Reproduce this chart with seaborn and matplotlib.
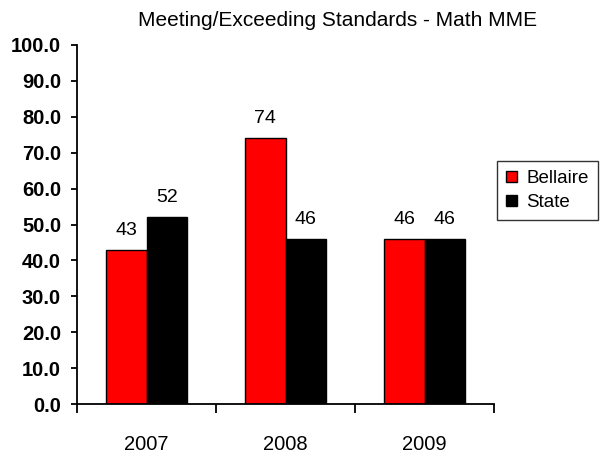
import matplotlib
matplotlib.use("Agg")
import matplotlib.pyplot as plt
import seaborn as sns
import pandas as pd

years = ["2007", "2008", "2009"]
bellaire = [43, 74, 46]
state = [52, 46, 46]
series_names = ["Bellaire", "State"]
series_colors = ["#FF0000", "#000000"]
y_ticks = [0, 10, 20, 30, 40, 50, 60, 70, 80, 90, 100]

df = pd.DataFrame({
    "Year": years * 2,
    "Percent": bellaire + state,
    "School": [series_names[0]] * len(years) + [series_names[1]] * len(years),
})

sns.set_style("white")
plt.rcParams["font.family"] = ["Liberation Sans", "DejaVu Sans"]
plt.rcParams["text.color"] = "black"
plt.rcParams["xtick.color"] = "black"
plt.rcParams["ytick.color"] = "black"
plt.rcParams["xtick.labelcolor"] = "black"
plt.rcParams["ytick.labelcolor"] = "black"

fig = plt.figure(figsize=(6.02, 4.57), dpi=100)
ax = fig.add_axes([77 / 602, 1 - 404 / 457, (494 - 77) / 602, (404 - 45) / 457])

sns.barplot(data=df, x="Year", y="Percent", hue="School", order=years,
            hue_order=series_names, palette=series_colors, width=0.58,
            edgecolor="black", linewidth=1.0, saturation=1, ax=ax,
            errorbar=None)

for container in ax.containers:
    ax.bar_label(container, fmt="%d", padding=8, fontsize=14, color="black",
                 family=["Liberation Sans", "DejaVu Sans"])

ax.set_ylim(0, 100)
ax.set_xlim(-0.5, len(years) - 0.5)
ax.set_yticks(y_ticks)
ax.set_yticklabels([f"{v:.1f}" for v in y_ticks], fontsize=14.5,
                   fontweight="bold")
ax.tick_params(axis="y", direction="out", length=4.5, width=1.3,
               pad=7, color="black", left=True)

# category labels without marks; boundary marks as minor ticks
ax.set_xticks(range(len(years)))
ax.set_xticklabels(years, fontsize=14.5)
ax.tick_params(axis="x", which="major", length=0, pad=22)
ax.set_xticks([i - 0.5 for i in range(len(years) + 1)], minor=True)
ax.tick_params(axis="x", which="minor", direction="out", length=6.5,
               width=1.3, color="black", bottom=True)

ax.set_xlabel("")
ax.set_ylabel("")
for side in ("top", "right"):
    ax.spines[side].set_visible(False)
for side in ("left", "bottom"):
    ax.spines[side].set_color("black")
    ax.spines[side].set_linewidth(1.3)

fig.text(338 / 602, 1 - 21 / 457, "Meeting/Exceeding Standards - Math MME",
         ha="center", va="center", fontsize=15, color="black")

ax.legend_.remove()
handles, labels = ax.get_legend_handles_labels()
leg = fig.legend(handles, labels, loc="upper left",
                 bbox_to_anchor=(497 / 602, 1 - 161 / 457),
                 fontsize=13.5, frameon=True, fancybox=False, shadow=False,
                 handlelength=0.57, handleheight=0.55, handletextpad=0.5,
                 borderpad=0.5, labelspacing=0.35, borderaxespad=0)
leg.get_frame().set_edgecolor("black")
leg.get_frame().set_linewidth(1.0)
for h in leg.legend_handles:
    h.set_edgecolor("black")
    h.set_linewidth(1.0)
for t in leg.get_texts():
    t.set_color("black")

fig.savefig("out.png", dpi=100)
